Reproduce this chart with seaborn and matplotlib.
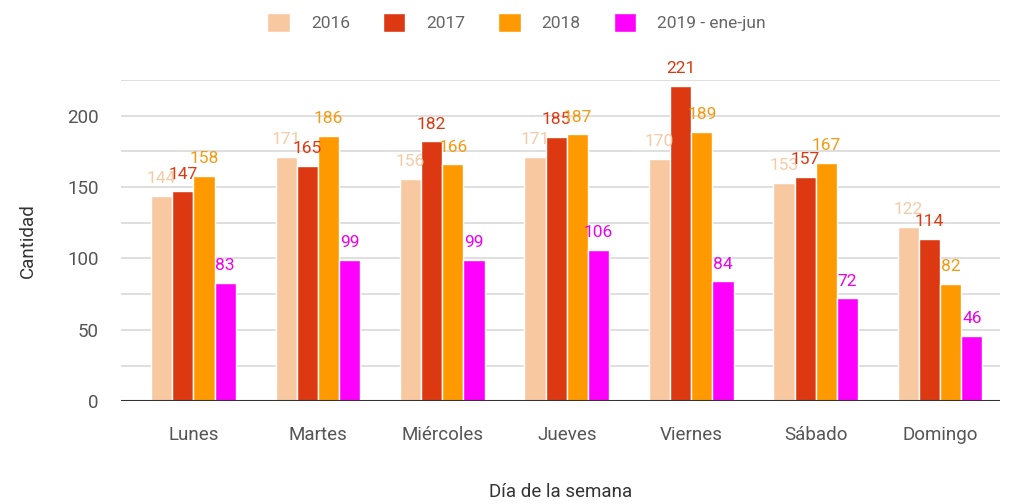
import pandas as pd
import matplotlib.pyplot as plt
import seaborn as sns
from matplotlib.ticker import MultipleLocator

dias = ["Lunes", "Martes", "Miércoles", "Jueves", "Viernes", "Sábado", "Domingo"]
series = ["2016", "2017", "2018", "2019 - ene-jun"]
v2016 = [144, 171, 156, 171, 170, 153, 122]
v2017 = [147, 165, 182, 185, 221, 157, 114]
v2018 = [158, 186, 166, 187, 189, 167, 82]
v2019 = [83, 99, 99, 106, 84, 72, 46]

colores = ["#F8C9A0", "#DC3912", "#FF9900", "#FF00FF"]
colores_txt = ["#F5CBA7", "#DC3912", "#F59A12", "#EE00EE"]

rows = []
for s, vals in zip(series, [v2016, v2017, v2018, v2019]):
    for d, v in zip(dias, vals):
        rows.append({"Día de la semana": d, "Serie": s, "Cantidad": v})
df = pd.DataFrame(rows)

sns.set_style("white")
plt.rcParams["font.family"] = ["Roboto", "DejaVu Sans"]

fig = plt.figure(figsize=(10.1, 5.04), dpi=100)
ax = fig.add_axes([0.12, 0.204, 0.87, 0.637])

sns.barplot(data=df, x="Día de la semana", y="Cantidad", hue="Serie",
            order=dias, hue_order=series, palette=colores, width=0.68,
            ax=ax, legend=True, saturation=1)

ax.set_ylim(0, 225)
ax.yaxis.set_major_locator(MultipleLocator(50))
ax.yaxis.set_minor_locator(MultipleLocator(25))
ax.grid(axis="y", which="both", color="#d9d9d9", linewidth=1.2)
ax.set_axisbelow(True)
ax.axhline(0, color="#333333", linewidth=1.5, zorder=3)
for sp in ax.spines.values():
    sp.set_visible(False)
ax.tick_params(axis="both", length=0, labelsize=13.5, labelcolor="#555555")
ax.tick_params(axis="x", pad=18)
ax.tick_params(axis="y", pad=16)
ax.set_xlim(-0.58, 6.48)

ax.set_ylabel("Cantidad", fontsize=13.5, color="#333333", labelpad=22)
ax.set_xlabel("Día de la semana", fontsize=13.5, color="#333333", labelpad=28)

for cont, c in zip(ax.containers, colores_txt):
    ax.bar_label(cont, color=c, fontsize=12.5, padding=7)

handles, labels = ax.get_legend_handles_labels()
ax.legend(handles, labels, loc="center", bbox_to_anchor=(0.45, 1.18),
          ncol=4, frameon=False, fontsize=12.5, labelcolor="#666666",
          handlelength=1.3, handleheight=1.3, columnspacing=1.9,
          handletextpad=1.2)

fig.savefig("out.png", dpi=100)
